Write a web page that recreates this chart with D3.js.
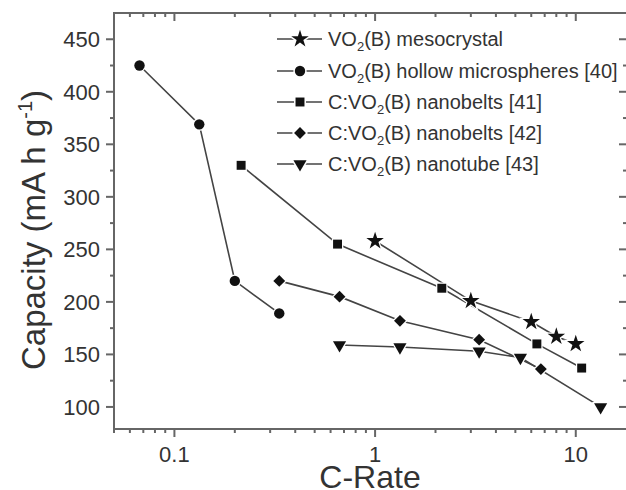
<!DOCTYPE html>
<html>
<head>
<meta charset="utf-8">
<script src="https://cdn.jsdelivr.net/npm/d3@7"></script>
<style>
  body { margin: 0; background: #fff; }
  svg { display: block; font-family: "Liberation Sans", Arial, sans-serif; }
</style>
</head>
<body>
<svg id="chart" width="626" height="490"></svg>
<script>
// series data (C-rate, capacity)
var mesoRate = [1, 3, 6, 8, 10];
var mesoCap = [258, 201, 181, 167, 160];
var hollowRate = [0.067, 0.133, 0.2, 0.333];
var hollowCap = [425, 369, 220, 189];
var belts41Rate = [0.215, 0.65, 2.15, 6.4, 10.7];
var belts41Cap = [330, 255, 213, 160, 137];
var belts42Rate = [0.333, 0.665, 1.33, 3.3, 6.7];
var belts42Cap = [220, 205, 182, 164, 136];
var tubeRate = [0.665, 1.33, 3.3, 5.3, 13.3];
var tubeCap = [159, 157, 153, 147, 100];

var seriesNames = ['mesocrystal', 'hollow microspheres [40]', 'nanobelts [41]', 'nanobelts [42]', 'nanotube [43]'];
var seriesPrefix = ['', '', 'C:', 'C:', 'C:'];
var yTicks = [100, 150, 200, 250, 300, 350, 400, 450];
var xTicks = [0.1, 1, 10];

var series = [
  { rate: mesoRate, cap: mesoCap, shape: 'star' },
  { rate: hollowRate, cap: hollowCap, shape: 'circle' },
  { rate: belts41Rate, cap: belts41Cap, shape: 'square' },
  { rate: belts42Rate, cap: belts42Cap, shape: 'diamond' },
  { rate: tubeRate, cap: tubeCap, shape: 'triangle' }
];

var svg = d3.select('#chart');
var pLeft = 114, pTop = 13, pRight = 627, pBottom = 429;
var axisColor = '#666', lineColor = '#444', markColor = '#111', textColor = '#333';

var x = d3.scaleLog().domain([0.05, 18]).range([pLeft, pRight]);
var y = d3.scaleLinear().domain([79, 475]).range([pBottom, pTop]);

function markerPath(shape) {
  if (shape === 'star') return d3.symbol(d3.symbolStar, 95)();
  if (shape === 'circle') return d3.symbol(d3.symbolCircle, 85)();
  if (shape === 'square') return d3.symbol(d3.symbolSquare, 80)();
  if (shape === 'diamond') return d3.symbol(d3.symbolSquare, 70)();
  return d3.symbol(d3.symbolTriangle, 75)();
}
function markerRotate(shape) {
  if (shape === 'diamond') return 45;
  if (shape === 'triangle') return 180;
  return 0;
}

// minor ticks
var minorX = [];
[0.01, 0.1, 1, 10].forEach(function(dec) {
  for (var k = 2; k <= 9; k++) {
    var v = dec * k;
    if (v > 0.05 - 1e-9 && v < 18) minorX.push(v);
  }
});
var minorY = [125, 175, 225, 275, 325, 375, 425];

var axes = svg.append('g').attr('stroke', axisColor).attr('stroke-width', 2);

function vTicks(data, y1, y2) {
  axes.selectAll(null).data(data).enter().append('line')
    .attr('x1', function(d) { return x(d); }).attr('x2', function(d) { return x(d); })
    .attr('y1', y1).attr('y2', y2);
}
function hTicks(data, x1, x2) {
  axes.selectAll(null).data(data).enter().append('line')
    .attr('x1', x1).attr('x2', x2)
    .attr('y1', function(d) { return y(d); }).attr('y2', function(d) { return y(d); });
}
vTicks(xTicks, pBottom, pBottom + 8);
vTicks(minorX, pBottom, pBottom + 4);
vTicks(xTicks, pTop, pTop + 8);
vTicks(minorX, pTop, pTop + 4);
hTicks(yTicks, pLeft - 8, pLeft);
hTicks(minorY, pLeft - 4, pLeft);
hTicks(yTicks, pRight - 8, pRight);
hTicks(minorY, pRight - 4, pRight);

// frame
axes.append('rect')
  .attr('x', pLeft).attr('y', pTop)
  .attr('width', pRight - pLeft).attr('height', pBottom - pTop)
  .attr('fill', 'none');

// tick labels
svg.selectAll('.ylab').data(yTicks).enter().append('text')
  .attr('x', pLeft - 14).attr('y', function(d) { return y(d); })
  .attr('dy', '0.36em')
  .attr('text-anchor', 'end')
  .attr('font-size', 22).attr('fill', textColor)
  .text(function(d) { return d; });
svg.selectAll('.xlab').data(xTicks).enter().append('text')
  .attr('x', function(d) { return x(d); }).attr('y', 462)
  .attr('text-anchor', 'middle')
  .attr('font-size', 22).attr('fill', textColor)
  .text(function(d) { return d; });

// axis titles
svg.append('text')
  .attr('x', 370).attr('y', 488)
  .attr('text-anchor', 'middle')
  .attr('font-size', 32).attr('fill', textColor)
  .text('C-Rate');

var yt = svg.append('text')
  .attr('transform', 'translate(45,230) rotate(-90)')
  .attr('text-anchor', 'middle')
  .attr('font-size', 33).attr('fill', textColor);
yt.append('tspan').text('Capacity (mA h g');
yt.append('tspan').attr('font-size', 20).attr('dy', -13).text('-1');
yt.append('tspan').attr('dy', 13).text(')');

// series lines and markers
var line = d3.line()
  .x(function(d) { return x(d[0]); })
  .y(function(d) { return y(d[1]); });

series.forEach(function(s) {
  var pts = s.rate.map(function(r, i) { return [r, s.cap[i]]; });
  svg.append('path')
    .attr('d', line(pts))
    .attr('fill', 'none')
    .attr('stroke', lineColor)
    .attr('stroke-width', 1.6);
});
series.forEach(function(s) {
  var pts = s.rate.map(function(r, i) { return [r, s.cap[i]]; });
  svg.selectAll(null).data(pts).enter().append('path')
    .attr('d', markerPath(s.shape))
    .attr('transform', function(d) {
      return 'translate(' + x(d[0]) + ',' + y(d[1]) + ') rotate(' + markerRotate(s.shape) + ')';
    })
    .attr('fill', markColor)
    .attr('stroke', '#fff')
    .attr('stroke-width', 2.5)
    .attr('paint-order', 'stroke');
});

// legend
var legend = svg.append('g');
var rowY = [39, 71, 102, 133, 164];
series.forEach(function(s, i) {
  var g = legend.append('g').attr('transform', 'translate(0,' + rowY[i] + ')');
  g.append('line').attr('x1', 277).attr('x2', 322).attr('y1', 0).attr('y2', 0)
    .attr('stroke', lineColor).attr('stroke-width', 1.6);
  g.append('path')
    .attr('d', markerPath(s.shape))
    .attr('transform', 'translate(300,0) rotate(' + markerRotate(s.shape) + ')')
    .attr('fill', markColor)
    .attr('stroke', '#fff').attr('stroke-width', 3).attr('paint-order', 'stroke');
  var t = g.append('text').attr('x', 328).attr('y', 0).attr('dy', '0.36em')
    .attr('font-size', 20).attr('fill', textColor);
  t.append('tspan').text(seriesPrefix[i] + 'VO');
  t.append('tspan').attr('font-size', 13).attr('dy', 5).text('2');
  t.append('tspan').attr('dy', -5).text('(B) ' + seriesNames[i]);
});
</script>
</body>
</html>
